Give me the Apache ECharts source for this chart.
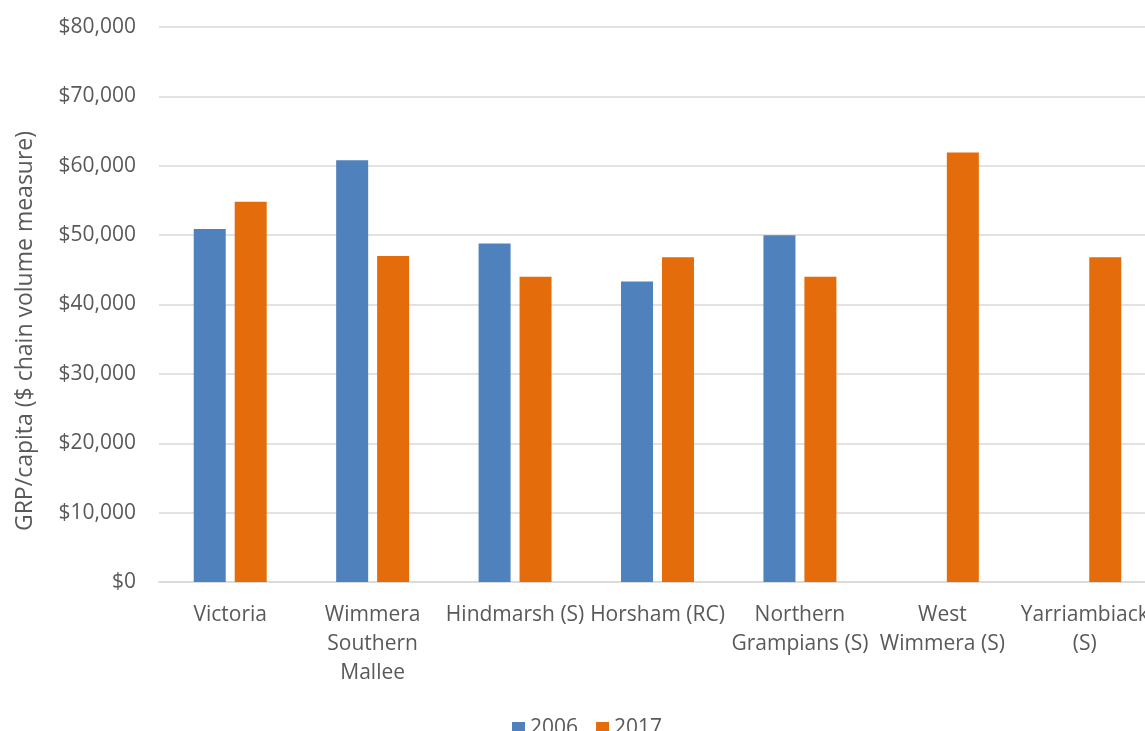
<!DOCTYPE html>
<html>
<head>
<meta charset="utf-8">
<script src="https://cdn.jsdelivr.net/npm/echarts@6/dist/echarts.min.js"></script>
<style>
html,body{margin:0;padding:0;background:#fff;}
#chart{width:1145px;height:731px;}
</style>
</head>
<body>
<div id="chart"></div>
<script>
const categories = ["Victoria", "Wimmera\nSouthern\nMallee", "Hindmarsh (S)", "Horsham (RC)", "Northern\nGrampians (S)", "West\nWimmera (S)", "Yarriambiack\n(S)"];
const values2006 = [50900, 60800, 48800, 43300, 50000, null, null];
const values2017 = [54800, 47000, 44000, 46800, 44000, 61900, 46800];
const yTicks = [0, 10000, 20000, 30000, 40000, 50000, 60000, 70000, 80000];

const FONT = "Open Sans";
const TXT = "#595959";
const chart = echarts.init(document.getElementById('chart'));
chart.setOption({
  animation: false,
  textStyle: { fontFamily: FONT },
  grid: { left: 159, top: 27, width: 997, height: 555, containLabel: false, outerBoundsMode: 'none' },
  legend: {
    data: ["2006", "2017"],
    left: 507, top: 713,
    itemWidth: 13, itemHeight: 13, itemGap: 18,
    icon: 'rect',
    textStyle: { color: TXT, fontSize: 21, fontFamily: FONT }
  },
  xAxis: {
    type: 'category',
    data: categories,
    axisLine: { lineStyle: { color: '#d9d9d9', width: 1.5 } },
    axisTick: { show: false },
    axisLabel: { color: TXT, fontSize: 21, fontFamily: FONT, lineHeight: 29, margin: 19, interval: 0 }
  },
  yAxis: {
    type: 'value',
    min: yTicks[0], max: yTicks[yTicks.length - 1], interval: 10000,
    axisLine: { show: false },
    axisTick: { show: false },
    splitLine: { lineStyle: { color: '#d9d9d9', width: 1.5 } },
    axisLabel: {
      color: TXT, fontSize: 21, fontFamily: FONT, margin: 23,
      formatter: v => '$' + v.toLocaleString('en-US')
    }
  },
  graphic: [{
    type: 'text',
    x: 25, y: 331,
    rotation: Math.PI / 2,
    style: {
      text: "GRP/capita ($ chain volume measure)",
      fill: TXT, fontSize: 23, fontFamily: FONT,
      textAlign: 'center', textVerticalAlign: 'middle'
    }
  }],
  series: [
    { name: "2006", type: 'bar', data: values2006, barWidth: 32, barGap: '28%',
      itemStyle: { color: '#4f81bd' } },
    { name: "2017", type: 'bar', data: values2017, barWidth: 32, barGap: '28%',
      itemStyle: { color: '#e46c0a' } }
  ]
});
</script>
</body>
</html>
